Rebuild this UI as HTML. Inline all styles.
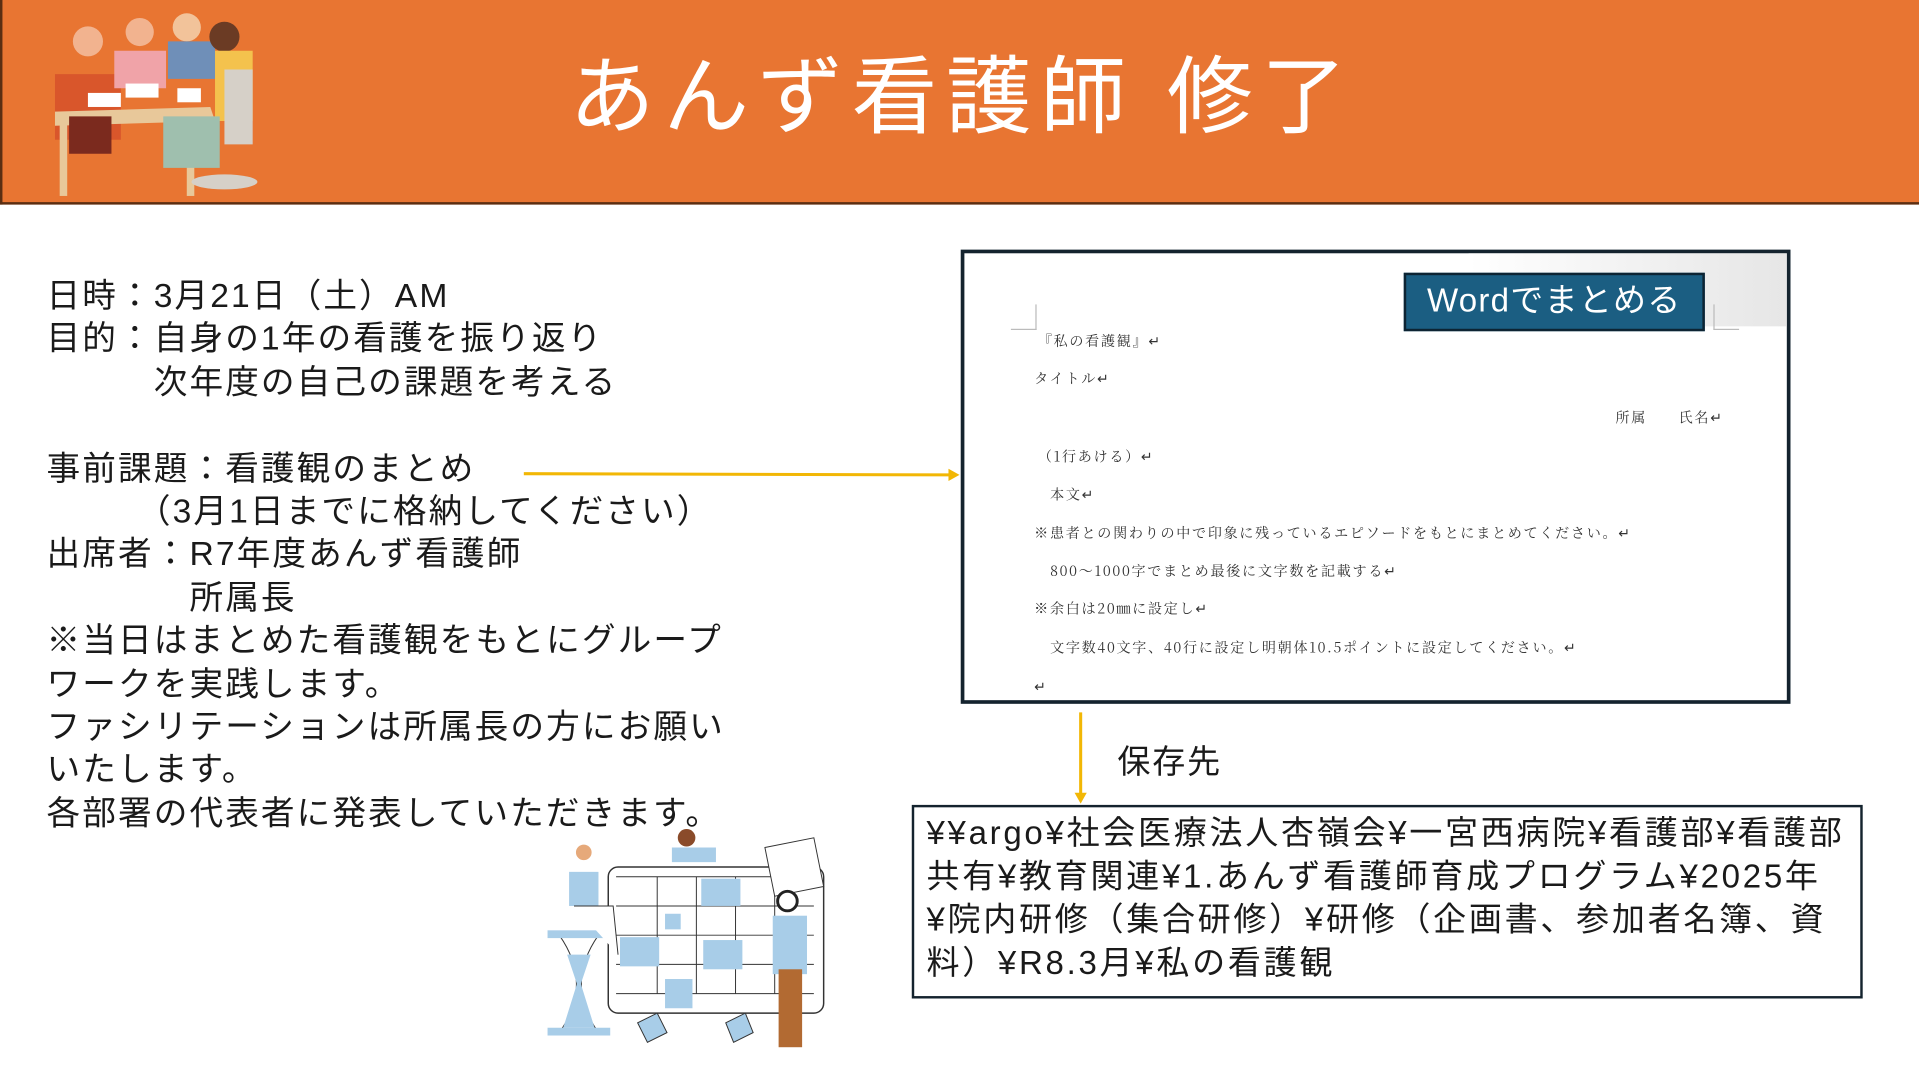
<!DOCTYPE html>
<html><head><meta charset="utf-8">
<style>
html,body{margin:0;padding:0;width:1919px;height:1074px;overflow:hidden;background:#fff}
#w{position:absolute;left:0;top:0;width:1568px;height:882px;transform:scale(1.22385,1.21769);transform-origin:0 0;font-family:"Liberation Sans","Noto Sans CJK JP",sans-serif;color:#1a1a1a}
.a{position:absolute;white-space:nowrap}
.hdr{position:absolute;left:0;top:0;width:1568px;height:168px;background:#E87532;border-bottom:2px solid #5a2e12;border-left:2px solid #5a2e12;box-sizing:border-box}
.title{left:465px;top:24px;font-size:70px;color:#fff;letter-spacing:7px}
.lt{left:38px;font-size:27.5px;line-height:35.4px;letter-spacing:1.7px}
.doc{position:absolute;left:785px;top:205px;width:678px;height:373px;border:3px solid #14232e;box-sizing:border-box;background:#fff;overflow:hidden}
.m{position:absolute;font-family:"Noto Serif CJK SC","Liberation Serif",serif;font-size:11.5px;color:#333;white-space:nowrap;letter-spacing:1.4px}
.btn{position:absolute;left:1147px;top:224px;width:246px;height:48px;background:#1B5E82;border:2px solid #0d2433;box-sizing:border-box;color:#fff;font-size:27px;line-height:42px;text-align:center;letter-spacing:1px}
.path{position:absolute;left:745px;top:661px;width:777px;height:159px;border:2.5px solid #14232e;box-sizing:border-box;font-size:27px;line-height:35.5px;padding:4px 0 0 10px;white-space:nowrap;letter-spacing:2.2px}
</style></head><body><div id="w">
<div class="hdr"></div>
<svg class="a" style="left:18px;top:0" width="200" height="168" viewBox="0 0 260 210">
<circle cx="70" cy="40" r="16" fill="#f2b38f"/><path d="M35 75 h70 v70 h-70z" fill="#d9562b"/>
<circle cx="125" cy="30" r="15" fill="#f2b38f"/><path d="M98 50 h55 v40 h-55z" fill="#f0a3a8"/>
<circle cx="175" cy="25" r="15" fill="#f2c39a"/><path d="M155 40 h50 v40 h-50z" fill="#6f8fb8"/>
<circle cx="215" cy="35" r="16" fill="#6b3b24"/><path d="M205 50 h40 v75 h-40z" fill="#f4c24d"/>
<path d="M35 115 L200 110 L205 125 L35 130z" fill="#e8c89a"/>
<rect x="40" y="125" width="8" height="80" fill="#e8c89a"/><rect x="175" y="125" width="8" height="80" fill="#e8c89a"/>
<path d="M50 120 h45 v40 h-45z" fill="#7b2a1e"/><path d="M150 120 h60 v55 h-60z" fill="#9fbfae"/>
<path d="M215 70 h30 v80 h-30z" fill="#d6d0c8"/><ellipse cx="215" cy="190" rx="35" ry="8" fill="#d6d0c8"/>
<rect x="70" y="95" width="35" height="15" fill="#fff"/><rect x="110" y="85" width="35" height="15" fill="#fff"/><rect x="165" y="90" width="25" height="15" fill="#fff"/>
</svg>
<div class="a title">あんず看護師 修了</div>

<div class="a lt" style="top:225px">日時：3月21日（土）AM<br>目的：自身の1年の看護を振り返り<br>　　　次年度の自己の課題を考える<br><br>事前課題：看護観のまとめ<br>　　　（3月1日までに格納してください）<br>出席者：R7年度あんず看護師<br>　　　　所属長<br>※当日はまとめた看護観をもとにグループ<br>ワークを実践します。<br>ファシリテーションは所属長の方にお願い<br>いたします。<br>各部署の代表者に発表していただきます。</div>

<svg class="a" style="left:0;top:0" width="1568" height="882">
<line x1="428" y1="389" x2="776" y2="390" stroke="#F2B705" stroke-width="2.5"/>
<path d="M784 390 L775 385 L775 395z" fill="#F2B705"/>
<line x1="883" y1="585" x2="883" y2="652" stroke="#F2B705" stroke-width="2.5"/>
<path d="M883 660 L878 651 L888 651z" fill="#F2B705"/>
</svg>

<div class="doc">
<div style="position:absolute;right:0;top:0;width:260px;height:60px;background:linear-gradient(90deg,#fff,#e6e6e6)"></div>
<div style="position:absolute;left:38px;top:42px;width:20px;height:20px;border-right:1px solid #bbb;border-bottom:1px solid #bbb"></div>
<div style="position:absolute;left:612px;top:42px;width:20px;height:20px;border-left:1px solid #bbb;border-bottom:1px solid #bbb"></div>
<div class="m" style="left:60px;top:64px">『私の看護観』↵</div>
<div class="m" style="left:57px;top:95px">タイトル↵</div>
<div class="m" style="left:532px;top:127px">所属　　氏名↵</div>
<div class="m" style="left:60px;top:159px">（1行あける）↵</div>
<div class="m" style="left:70px;top:190px">本文↵</div>
<div class="m" style="left:57px;top:222px">※患者との関わりの中で印象に残っているエピソードをもとにまとめてください。↵</div>
<div class="m" style="left:70px;top:253px">800～1000字でまとめ最後に文字数を記載する↵</div>
<div class="m" style="left:57px;top:284px">※余白は20㎜に設定し↵</div>
<div class="m" style="left:70px;top:316px">文字数40文字、40行に設定し明朝体10.5ポイントに設定してください。↵</div>
<div class="m" style="left:57px;top:348px">↵</div>
</div>
<div class="btn">Wordでまとめる</div>

<div class="a" style="left:913px;top:604px;font-size:27px;letter-spacing:1.5px">保存先</div>
<div class="path">¥¥argo¥社会医療法人杏嶺会¥一宮西病院¥看護部¥看護部<br>共有¥教育関連¥1.あんず看護師育成プログラム¥2025年<br>¥院内研修（集合研修）¥研修（企画書、参加者名簿、資<br>料）¥R8.3月¥私の看護観</div>

<svg class="a" style="left:441px;top:678px" width="240" height="196" viewBox="0 0 300 240">
<rect x="70" y="40" width="220" height="150" rx="10" fill="none" stroke="#333" stroke-width="1.5"/>
<g stroke="#333" stroke-width="1" fill="none"><path d="M78 50 H280 M78 80 H280 M78 110 H280 M78 140 H280 M78 170 H280 M120 50 V170 M160 50 V170 M200 50 V170 M240 50 V170"/></g>
<rect x="165" y="52" width="40" height="28" fill="#a8cde8"/><rect x="82" y="112" width="40" height="30" fill="#a8cde8"/><rect x="167" y="115" width="40" height="30" fill="#a8cde8"/><rect x="128" y="88" width="16" height="16" fill="#a8cde8"/><rect x="128" y="155" width="28" height="30" fill="#a8cde8"/>
<path d="M10 110 h60 M20 110 q35 50 0 100 M60 110 q-35 50 0 100 M10 210 h60" stroke="#333" fill="none"/>
<rect x="8" y="105" width="64" height="8" fill="#a8cde8"/><rect x="8" y="205" width="64" height="8" fill="#a8cde8"/><path d="M28 130 h24 l-10 30 l14 45 h-32 l14 -45z" fill="#a8cde8"/>
<circle cx="45" cy="25" r="8" fill="#e6a97a"/><rect x="30" y="45" width="30" height="35" fill="#a8cde8"/><path d="M35 80 h40 l5 50" stroke="#333" fill="#fff"/>
<circle cx="150" cy="10" r="9" fill="#8a4b2a"/><path d="M135 20 h45 v15 h-45z" fill="#a8cde8"/>
<path d="M230 20 l50 -10 l10 50 l-50 10z" fill="#fff" stroke="#333"/>
<circle cx="253" cy="75" r="10" fill="#fff" stroke="#222" stroke-width="3"/><rect x="238" y="90" width="35" height="60" fill="#a8cde8"/><rect x="244" y="145" width="24" height="80" fill="#b26a32"/>
<path d="M100 200 l20 -10 l10 20 l-20 10z M190 200 l20 -10 l8 20 l-20 10z" fill="#a8cde8" stroke="#333"/>
</svg>
</div></body></html>
